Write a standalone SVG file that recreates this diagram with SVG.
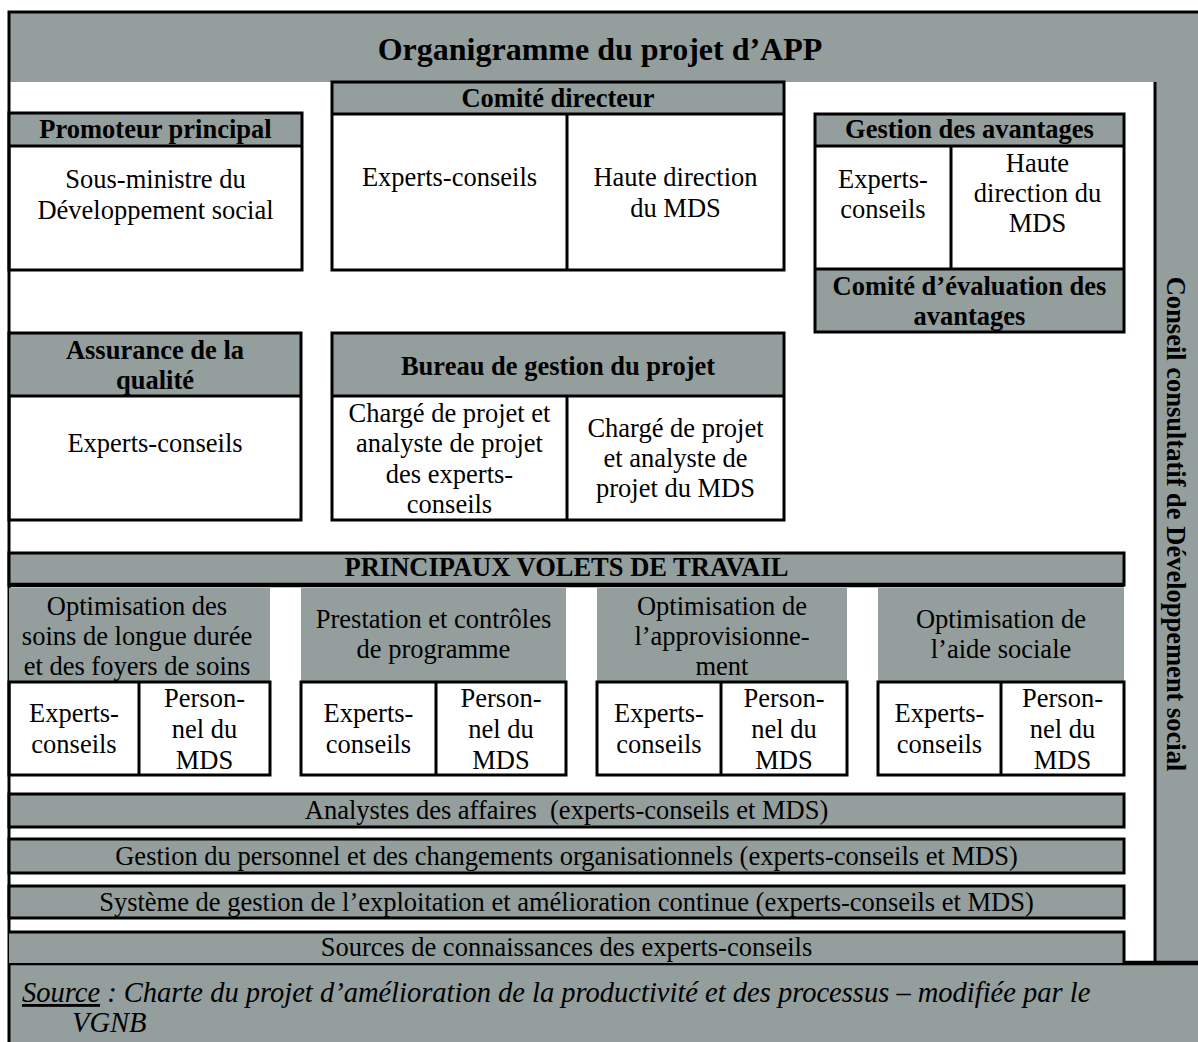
<svg xmlns="http://www.w3.org/2000/svg" width="1198" height="1042" viewBox="0 0 1198 1042">
<style>
.g{fill:#939e9d}
.ln{fill:none;stroke:#000;stroke-width:3}
.thk{fill:none;stroke:#000;stroke-width:4.5}
text{font-family:"Liberation Serif","Times New Roman",serif;font-size:26.5px;fill:#000;text-anchor:middle}
.b{font-weight:bold}
.it{font-style:italic;text-anchor:start;font-size:28.5px}
</style>
<rect x="0" y="0" width="1198" height="1042" fill="#ffffff"/>

<g id="frame">
  <rect x="9" y="12" width="1189" height="70" class="g"/>
  <rect x="1155" y="82" width="43" height="881" class="g"/>
  <rect x="9" y="963" width="1189" height="79" class="g"/>
  <path d="M9,1042 V12 H1198" class="ln"/>
  <path d="M1155,82 V963" class="ln"/>
  <path d="M9,963 H1198" class="thk"/>
</g>

<g id="title">
  <text x="600" y="60" class="b" style="font-size:32px">Organigramme du projet d’APP</text>
</g>

<g id="conseil">
  <text transform="translate(1167,524) rotate(90)" class="b">Conseil consultatif de Développement social</text>
</g>

<g id="promoteur">
  <rect x="9" y="113" width="293" height="33" class="g"/>
  <rect x="9" y="113" width="293" height="157" class="ln"/>
  <path d="M9,146 H302" class="ln"/>
  <text x="155.5" y="138" class="b">Promoteur principal</text>
  <text x="155.5" y="188">Sous-ministre du</text>
  <text x="155.5" y="219">Développement social</text>
</g>

<g id="comite-directeur">
  <rect x="332" y="82" width="452" height="32" class="g"/>
  <rect x="332" y="82" width="452" height="188" class="ln"/>
  <path d="M332,114 H784 M567,114 V270" class="ln"/>
  <text x="558" y="107" class="b">Comité directeur</text>
  <text x="449.5" y="186">Experts-conseils</text>
  <text x="675.5" y="186">Haute direction</text>
  <text x="675.5" y="217">du MDS</text>
</g>

<g id="gestion-avantages">
  <rect x="815" y="114" width="309" height="32" class="g"/>
  <rect x="815" y="269" width="309" height="63" class="g"/>
  <rect x="815" y="114" width="309" height="218" class="ln"/>
  <path d="M815,146 H1124 M815,269 H1124 M951,146 V269" class="ln"/>
  <text x="969.5" y="138" class="b">Gestion des avantages</text>
  <text x="883" y="188">Experts-</text>
  <text x="883" y="218">conseils</text>
  <text x="1037.5" y="172">Haute</text>
  <text x="1037.5" y="202">direction du</text>
  <text x="1037.5" y="232">MDS</text>
  <text x="969.5" y="295" class="b">Comité d’évaluation des</text>
  <text x="969.5" y="325" class="b">avantages</text>
</g>

<g id="assurance-qualite">
  <rect x="9" y="333" width="292" height="63" class="g"/>
  <rect x="9" y="333" width="292" height="187" class="ln"/>
  <path d="M9,396 H301" class="ln"/>
  <text x="155" y="359" class="b">Assurance de la</text>
  <text x="155" y="389" class="b">qualité</text>
  <text x="155" y="452">Experts-conseils</text>
</g>

<g id="bureau-gestion">
  <rect x="332" y="333" width="452" height="63" class="g"/>
  <rect x="332" y="333" width="452" height="187" class="ln"/>
  <path d="M332,396 H784 M567,396 V520" class="ln"/>
  <text x="558" y="375" class="b">Bureau de gestion du projet</text>
  <text x="449.5" y="422">Chargé de projet et</text>
  <text x="449.5" y="452">analyste de projet</text>
  <text x="449.5" y="483">des experts-</text>
  <text x="449.5" y="513">conseils</text>
  <text x="675.5" y="437">Chargé de projet</text>
  <text x="675.5" y="467">et analyste de</text>
  <text x="675.5" y="497">projet du MDS</text>
</g>

<g id="volets">
  <rect x="9" y="553" width="1115" height="32" class="g"/>
  <rect x="9" y="553" width="1115" height="32" class="ln"/>
  <path d="M9,585 H1124" class="thk"/>
  <text x="566.5" y="576" class="b">PRINCIPAUX VOLETS DE TRAVAIL</text>
</g>

<g id="volet-soins">
  <rect x="9" y="588" width="261" height="94" class="g"/>
  <rect x="9" y="682" width="261" height="93" class="ln"/>
  <path d="M139,682 V775" class="ln"/>
  <text x="137" y="615">Optimisation des</text>
  <text x="137" y="645">soins de longue durée</text>
  <text x="137" y="675">et des foyers de soins</text>
  <text x="74" y="722">Experts-</text>
  <text x="74" y="753">conseils</text>
  <text x="204.5" y="707">Person-</text>
  <text x="204.5" y="738">nel du</text>
  <text x="204.5" y="769">MDS</text>
</g>

<g id="volet-prestation">
  <rect x="301" y="588" width="265" height="94" class="g"/>
  <rect x="301" y="682" width="265" height="93" class="ln"/>
  <path d="M436,682 V775" class="ln"/>
  <text x="433.5" y="628">Prestation et contrôles</text>
  <text x="433.5" y="658">de programme</text>
  <text x="368.5" y="722">Experts-</text>
  <text x="368.5" y="753">conseils</text>
  <text x="501" y="707">Person-</text>
  <text x="501" y="738">nel du</text>
  <text x="501" y="769">MDS</text>
</g>

<g id="volet-approvisionnement">
  <rect x="597" y="588" width="250" height="94" class="g"/>
  <rect x="597" y="682" width="250" height="93" class="ln"/>
  <path d="M721,682 V775" class="ln"/>
  <text x="722" y="615">Optimisation de</text>
  <text x="722" y="645">l’approvisionne-</text>
  <text x="722" y="675">ment</text>
  <text x="659" y="722">Experts-</text>
  <text x="659" y="753">conseils</text>
  <text x="784" y="707">Person-</text>
  <text x="784" y="738">nel du</text>
  <text x="784" y="769">MDS</text>
</g>

<g id="volet-aide-sociale">
  <rect x="878" y="588" width="246" height="94" class="g"/>
  <rect x="878" y="682" width="246" height="93" class="ln"/>
  <path d="M1001,682 V775" class="ln"/>
  <text x="1001" y="628">Optimisation de</text>
  <text x="1001" y="658">l’aide sociale</text>
  <text x="939.5" y="722">Experts-</text>
  <text x="939.5" y="753">conseils</text>
  <text x="1062.5" y="707">Person-</text>
  <text x="1062.5" y="738">nel du</text>
  <text x="1062.5" y="769">MDS</text>
</g>

<g id="bande-analystes">
  <rect x="9" y="794" width="1115" height="33" class="g"/>
  <rect x="9" y="794" width="1115" height="33" class="ln"/>
  <text x="566.5" y="819" xml:space="preserve">Analystes des affaires  (experts-conseils et MDS)</text>
</g>

<g id="bande-personnel">
  <rect x="9" y="839" width="1115" height="34" class="g"/>
  <rect x="9" y="839" width="1115" height="34" class="ln"/>
  <text x="566.5" y="865">Gestion du personnel et des changements organisationnels (experts-conseils et MDS)</text>
</g>

<g id="bande-systeme">
  <rect x="9" y="886" width="1115" height="32" class="g"/>
  <rect x="9" y="886" width="1115" height="32" class="ln"/>
  <text x="566.5" y="911">Système de gestion de l’exploitation et amélioration continue (experts-conseils et MDS)</text>
</g>

<g id="bande-sources">
  <rect x="9" y="932" width="1115" height="31" class="g"/>
  <path d="M9,932 H1124 V963" class="ln"/>
  <text x="566.5" y="956">Sources de connaissances des experts-conseils</text>
</g>

<g id="source">
  <text x="22" y="1002" class="it"><tspan text-decoration="underline">Source</tspan> : Charte du projet d’amélioration de la productivité et des processus – modifiée par le</text>
  <text x="72" y="1032" class="it">VGNB</text>
</g>

<g id="connectors"></g>
</svg>
